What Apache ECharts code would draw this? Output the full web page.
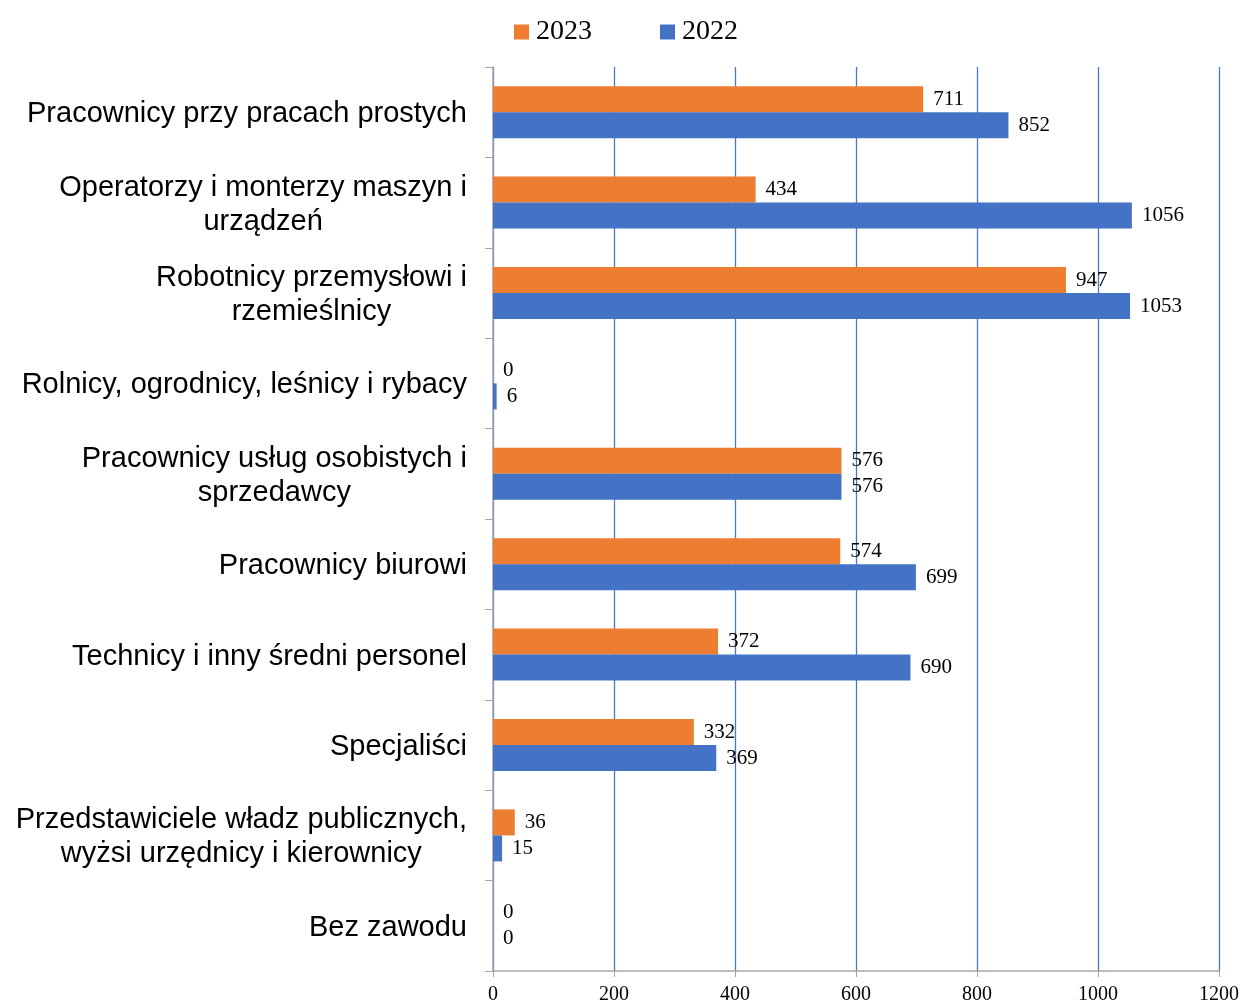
<!DOCTYPE html>
<html>
<head>
<meta charset="utf-8">
<script src="https://cdn.jsdelivr.net/npm/echarts@6/dist/echarts.min.js"></script>
<style>
  html, body { margin: 0; padding: 0; background: #fff; }
  #main { width: 1243px; height: 1006px; }
</style>
</head>
<body>
<div id="main"></div>
<script>
(function(){
    var mychart = echarts.init(document.getElementById('main'));

    // categories, top to bottom
    var categories = [
        'Pracownicy przy pracach prostych',
        'Operatorzy i monterzy maszyn i\nurządzeń',
        'Robotnicy przemysłowi i\nrzemieślnicy',
        'Rolnicy, ogrodnicy, leśnicy i rybacy',
        'Pracownicy usług osobistych i\nsprzedawcy',
        'Pracownicy biurowi',
        'Technicy i inny średni personel',
        'Specjaliści',
        'Przedstawiciele władz publicznych,\nwyżsi urzędnicy i kierownicy',
        'Bez zawodu'
    ];
    var data2023 = [711, 434, 947, 0, 576, 574, 372, 332, 36, 0];
    var data2022 = [852, 1056, 1053, 6, 576, 699, 690, 369, 15, 0];

    var serif = '"Liberation Serif", "DejaVu Serif", serif';
    var sans = '"Liberation Sans", Arial, sans-serif';

    function barLabel() {
        return {
            show: true,
            position: 'right',
            distance: 10,
            color: '#000',
            fontFamily: serif,
            fontSize: 21
        };
    }

    var option = {
        animation: false,
        legend: {
            left: 509,
            top: 13,
            itemWidth: 15,
            itemHeight: 15,
            itemGap: 68,
            icon: 'rect',
            textStyle: {
                color: '#000',
                fontFamily: serif,
                fontSize: 28,
                padding: [0, 0, 0, 2]
            },
            data: ['2023', '2022']
        },
        grid: {
            left: 493,
            right: 24,
            top: 67,
            bottom: 35,
            containLabel: false
        },
        xAxis: {
            type: 'value',
            min: 0,
            max: 1200,
            interval: 200,
            axisLine: { show: true, lineStyle: { color: '#a6a6a6', width: 1.5 } },
            axisTick: { show: true, length: 6, lineStyle: { color: '#a6a6a6' } },
            axisLabel: {
                color: '#000',
                fontFamily: serif,
                fontSize: 20,
                margin: 14,
                formatter: function (v) { return String(v); }
            },
            splitLine: { show: true, lineStyle: { color: '#4a78c8', width: 1.3 } }
        },
        yAxis: {
            type: 'category',
            inverse: true,
            data: categories,
            axisLine: { show: true, lineStyle: { color: '#a6a6a6', width: 1.5 } },
            axisTick: { show: true, length: 8, lineStyle: { color: '#a6a6a6' } },
            axisLabel: {
                margin: 26,
                align: 'right',
                padding: [4, 0, 0, 0],
                formatter: function (v) {
                    return v.split('\n').map(function (s) { return '{c|' + s + '}'; }).join('\n');
                },
                rich: {
                    c: {
                        align: 'center',
                        color: '#000',
                        fontFamily: sans,
                        fontSize: 29,
                        lineHeight: 34
                    }
                }
            }
        },
        series: [
            {
                name: '2023',
                type: 'bar',
                barWidth: 26,
                barGap: '0%',
                itemStyle: { color: '#ed7d31' },
                label: barLabel(),
                data: data2023
            },
            {
                name: '2022',
                type: 'bar',
                barWidth: 26,
                barGap: '0%',
                itemStyle: { color: '#4472c4' },
                label: barLabel(),
                data: data2022
            }
        ]
    };
    mychart.setOption(option);
})();
</script>
</body>
</html>
